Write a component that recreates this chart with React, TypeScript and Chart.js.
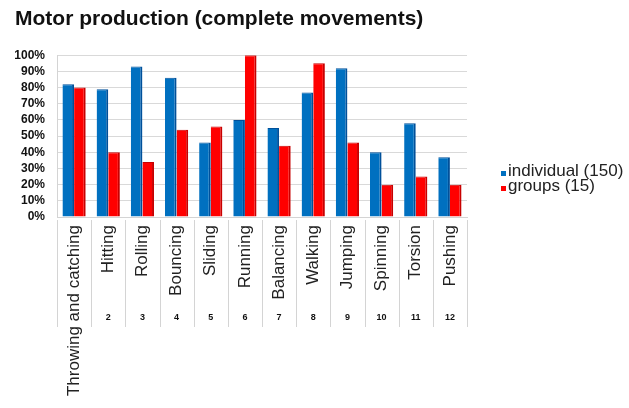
import { useEffect, useRef } from 'react';
import { Chart, registerables } from 'chart.js';

Chart.register(...registerables);

const categories = [
  'Throwing and catching',
  'Hitting',
  'Rolling',
  'Bouncing',
  'Sliding',
  'Running',
  'Balancing',
  'Walking',
  'Jumping',
  'Spinning',
  'Torsion',
  'Pushing',
];
const categoryNumbers = ['', '2', '3', '4', '5', '6', '7', '8', '9', '10', '11', '12'];
const individual = [82, 79, 93, 86, 46, 60, 55, 77, 92, 40, 58, 37];
const groups = [80, 40, 34, 54, 56, 100, 44, 95, 46, 20, 25, 20];
const seriesNames = ['individual (150)', 'groups (15)'];
const seriesColors = ['#0070C0', '#FF0000'];
const seriesEdges = ['#00509a', '#c80000'];
const titleText = 'Motor production (complete movements)';

const FONT = '"Liberation Sans", Arial, sans-serif';

const extrasPlugin = {
  id: 'extras',
  afterDraw(chart: any) {
    const ctx = chart.ctx;
    const x = chart.scales.x;
    const area = chart.chartArea;
    const half = (x.getPixelForValue(1) - x.getPixelForValue(0)) / 2;
    ctx.save();
    // category separators in the label area
    ctx.strokeStyle = '#d4d4d4';
    ctx.lineWidth = 1;
    for (let i = 0; i <= categories.length; i++) {
      const px = Math.round(x.getPixelForValue(0) - half + i * 2 * half) + 0.5;
      ctx.beginPath();
      ctx.moveTo(px, area.bottom + 3);
      ctx.lineTo(px, 327);
      ctx.stroke();
    }
    // category numbers
    ctx.fillStyle = '#111';
    ctx.font = 'bold 9px ' + FONT;
    ctx.textAlign = 'center';
    ctx.textBaseline = 'middle';
    categoryNumbers.forEach((n, i) => {
      ctx.fillText(n, x.getPixelForValue(i), 318);
    });
    // legend
    ctx.font = '17px ' + FONT;
    ctx.textAlign = 'left';
    ctx.textBaseline = 'alphabetic';
    seriesNames.forEach((name, i) => {
      const base = 176 + i * 15;
      ctx.fillStyle = seriesColors[i];
      ctx.fillRect(501, base - 5, 5, 5);
      ctx.fillStyle = '#222';
      ctx.fillText(name, 508, base);
    });
    ctx.restore();
  },
};

export default function App() {
  const ref = useRef<HTMLCanvasElement | null>(null);
  useEffect(() => {
    if (!ref.current) return;
    const chart = new Chart(ref.current, {
      type: 'bar',
      data: {
        labels: categories,
        datasets: [
          {
            label: seriesNames[0],
            data: individual,
            backgroundColor: seriesColors[0],
            borderColor: seriesEdges[0],
            borderWidth: { right: 2, top: 1, left: 0, bottom: 0 },
            categoryPercentage: 0.68,
            barPercentage: 1.0,
          },
          {
            label: seriesNames[1],
            data: groups,
            backgroundColor: seriesColors[1],
            borderColor: seriesEdges[1],
            borderWidth: { right: 2, top: 1, left: 0, bottom: 0 },
            categoryPercentage: 0.68,
            barPercentage: 1.0,
          },
        ],
      },
      options: {
        animation: false,
        responsive: true,
        maintainAspectRatio: false,
        layout: { padding: { left: 15, right: 162, top: 0, bottom: 0 } },
        plugins: {
          legend: { display: false },
          tooltip: { enabled: false },
          title: {
            display: true,
            text: titleText,
            align: 'start',
            color: '#111',
            font: { family: FONT, size: 21, weight: 'bold' },
            padding: { top: 7, bottom: 23 },
          },
        },
        scales: {
          x: {
            offset: true,
            grid: { display: false },
            border: { display: true, color: '#d4d4d4' },
            afterFit(scale: any) {
              scale.height = 191;
            },
            ticks: {
              autoSkip: false,
              minRotation: 90,
              maxRotation: 90,
              padding: 0,
              color: '#222',
              font: { family: FONT, size: 17 },
            },
          },
          y: {
            min: 0,
            max: 100,
            afterFit(scale: any) {
              scale.width = 42;
            },
            ticks: {
              stepSize: 10,
              autoSkip: false,
              padding: 12,
              color: '#111',
              font: { family: FONT, size: 12, weight: 'bold' },
              callback: (v: any) => v + '%',
            },
            grid: { color: '#d9d9d9', drawTicks: false },
            border: { display: true, color: '#d4d4d4' },
          },
        },
      },
      plugins: [extrasPlugin],
    });
    return () => chart.destroy();
  }, []);
  return (
    <div style={{ position: 'fixed', left: 0, top: 0, width: 629, height: 408, background: '#fff' }}>
      <canvas ref={ref} />
    </div>
  );
}
